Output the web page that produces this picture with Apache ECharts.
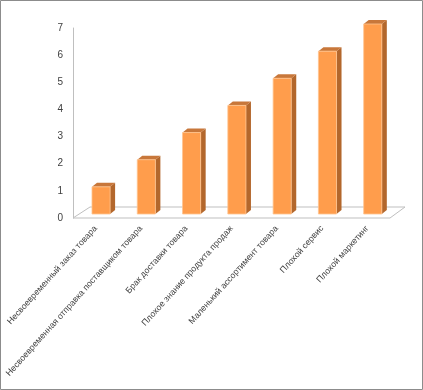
<!DOCTYPE html>
<html>
<head>
<meta charset="utf-8">
<script src="https://cdn.jsdelivr.net/npm/echarts@6/dist/echarts.min.js"></script>
<style>
html,body{margin:0;padding:0;background:#fff;}
#c{width:423px;height:390px;}
</style>
</head>
<body>
<div id="c"></div>
<script>
const categories = [
  'Несвоевременный заказ товара',
  'Несвоевременная отправка поставщиком товара',
  'Брак доставки товара',
  'Плохое знание продукта продаж',
  'Маленький ассортимент товара',
  'Плохой сервис',
  'Плохой маркетинг'
];
const values = [1, 2, 3, 4, 5, 6, 7];
const yTicks = [0, 1, 2, 3, 4, 5, 6, 7];

const chart = echarts.init(document.getElementById('c'), null, {renderer: 'canvas'});

const DX = 5.4, DY = -4;      // perspective shift of the bar row
const SX = 5, SY = -4;        // bar depth

function renderBar(params, api) {
  const i = api.value(0), v = api.value(1);
  const base = api.coord([i, 0]);
  const top = api.coord([i, v]);
  const bw = api.size([1, 0])[0] * 0.4;
  const x0 = base[0] + DX - bw / 2, x1 = x0 + bw;
  const yb = base[1] + DY, yt = top[1] + DY;
  return {
    type: 'group',
    children: [
      {type: 'polygon', shape: {points: [[x1, yb], [x1 + SX, yb + SY], [x1 + SX, yt + SY], [x1, yt]]},
       style: {fill: '#B3672C'}},
      {type: 'polygon', shape: {points: [[x0, yt], [x1, yt], [x1 + SX, yt + SY], [x0 + SX, yt + SY]]},
       style: {fill: '#C8773A'}},
      {type: 'rect', shape: {x: x0, y: yt, width: bw, height: yb - yt},
       style: {fill: '#FF9D4C', stroke: '#FFC48F', lineWidth: 0.8}}
    ]
  };
}

function renderFloor(params, api) {
  const cs = params.coordSys;
  const yf = cs.y + cs.height;
  return {
    type: 'polygon',
    shape: {points: [[cs.x, yf], [cs.x + cs.width, yf], [cs.x + cs.width + 15, yf - 11], [cs.x + 17, yf - 11]]},
    style: {fill: '#fff', stroke: '#BFBFBF', lineWidth: 1},
    z2: -1
  };
}

chart.setOption({
  animation: false,
  backgroundColor: '#fff',
  graphic: [{
    type: 'rect', shape: {x: 0.5, y: 0.5, width: 422, height: 389},
    style: {fill: 'none', stroke: '#8C8C8C', lineWidth: 1}, z: 100
  }],
  grid: {left: 73, right: 33, top: 28, bottom: 172, containLabel: false, outerBoundsMode: 'none'},
  xAxis: {
    type: 'category',
    data: categories,
    axisLine: {show: false},
    axisTick: {show: false},
    axisLabel: {
      rotate: 48, interval: 0, margin: 9,
      fontFamily: 'Liberation Sans', fontSize: 8.7, color: '#404040'
    }
  },
  yAxis: {
    type: 'value',
    min: yTicks[0], max: yTicks[yTicks.length - 1], interval: 1,
    axisLine: {show: true, lineStyle: {color: '#BFBFBF', width: 1}},
    axisTick: {show: false},
    splitLine: {show: false},
    axisLabel: {margin: 10, fontFamily: 'Liberation Sans', fontSize: 10, color: '#404040'}
  },
  series: [
    {type: 'custom', renderItem: renderFloor, data: [[0, 0]], silent: true, z: 1},
    {type: 'custom', renderItem: renderBar, data: values.map((v, i) => [i, v]), z: 2}
  ]
});
</script>
</body>
</html>
